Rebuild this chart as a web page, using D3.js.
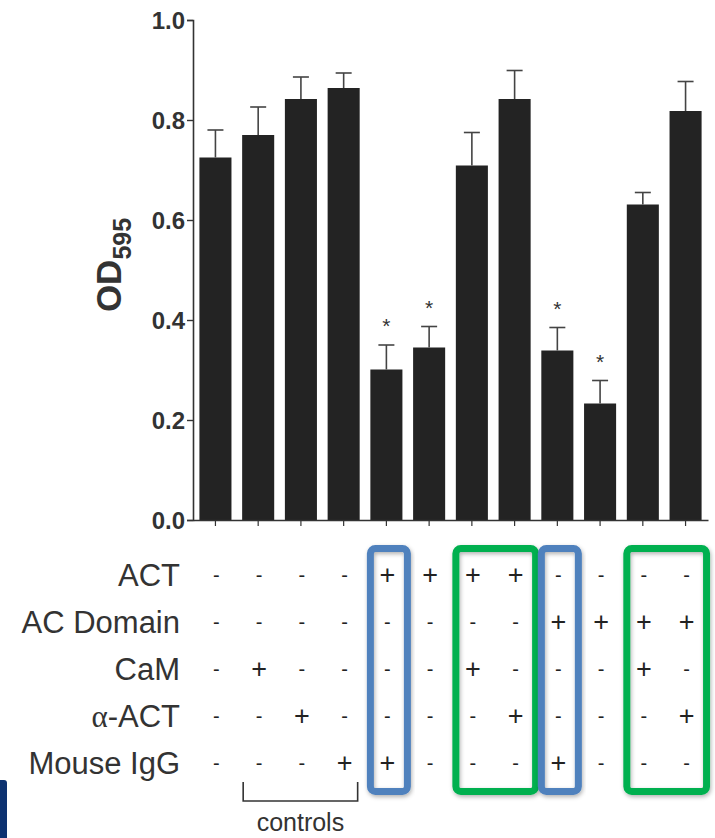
<!DOCTYPE html>
<html>
<head>
<meta charset="utf-8">
<script src="https://cdn.jsdelivr.net/npm/d3@7"></script>
<style>
  body { margin: 0; background: #fff; }
  text { font-family: "Liberation Sans", Arial, sans-serif; }
</style>
</head>
<body>
<svg width="715" height="838"></svg>
<script>
var width = 715,
    height = 838;

// bar values (OD595) and upper error
var values = [0.725, 0.77, 0.842, 0.864, 0.301, 0.345, 0.709, 0.842, 0.339, 0.233, 0.631, 0.818];
var errors = [0.055, 0.056, 0.044, 0.03, 0.049, 0.042, 0.066, 0.057, 0.046, 0.046, 0.024, 0.059];
var significant = [0, 0, 0, 0, 1, 1, 0, 0, 1, 1, 0, 0];
var yTicks = [0, 0.2, 0.4, 0.6, 0.8, 1.0];

// treatment table
var rowNames = ["ACT", "AC Domain", "CaM", "α-ACT", "Mouse IgG"];
var actRow      = ["-", "-", "-", "-", "+", "+", "+", "+", "-", "-", "-", "-"];
var acDomainRow = ["-", "-", "-", "-", "-", "-", "-", "-", "+", "+", "+", "+"];
var camRow      = ["-", "+", "-", "-", "-", "-", "+", "-", "-", "-", "+", "-"];
var alphaActRow = ["-", "-", "+", "-", "-", "-", "-", "+", "-", "-", "-", "+"];
var mouseIgGRow = ["-", "-", "-", "+", "+", "-", "-", "-", "+", "-", "-", "-"];
var rows = [actRow, acDomainRow, camRow, alphaActRow, mouseIgGRow];

// highlight boxes (first and last bar index)
var boxFrom = [4, 6, 8, 10];
var boxTo = [4, 7, 8, 11];
var boxColor = ["#4f81bd", "#00b050", "#4f81bd", "#00b050"];

// controls bracket spans bars 1..3
var controlsFrom = 1, controlsTo = 3;

var svg = d3.select("svg");

var idx = d3.range(values.length);

var x = d3.scaleBand()
    .domain(idx)
    .range([193, 708])
    .paddingInner(0.25)
    .paddingOuter(0.15);

var y = d3.scaleLinear()
    .domain([0, 1])
    .range([520, 20]);

function cx(i) { return x(i) + x.bandwidth() / 2; }

// bars
svg.append("g")
    .selectAll("rect")
    .data(idx)
    .enter().append("rect")
    .attr("x", function (i) { return x(i); })
    .attr("y", function (i) { return y(values[i]); })
    .attr("width", x.bandwidth())
    .attr("height", function (i) { return y(0) - y(values[i]); })
    .style("fill", "#232323");

// error bars (upper only)
var err = svg.append("g").style("stroke", "#444").style("stroke-width", 1.6);
err.selectAll("line.v")
    .data(idx)
    .enter().append("line")
    .attr("class", "v")
    .attr("x1", cx).attr("x2", cx)
    .attr("y1", function (i) { return y(values[i]); })
    .attr("y2", function (i) { return y(values[i] + errors[i]); });
err.selectAll("line.c")
    .data(idx)
    .enter().append("line")
    .attr("class", "c")
    .attr("x1", function (i) { return cx(i) - 8; })
    .attr("x2", function (i) { return cx(i) + 8; })
    .attr("y1", function (i) { return y(values[i] + errors[i]); })
    .attr("y2", function (i) { return y(values[i] + errors[i]); });

// significance stars
svg.append("g")
    .selectAll("text")
    .data(idx.filter(function (i) { return significant[i]; }))
    .enter().append("text")
    .attr("x", cx)
    .attr("y", function (i) { return y(values[i] + errors[i]) - 12; })
    .attr("text-anchor", "middle")
    .style("font-size", "21px")
    .style("fill", "#333")
    .text("*");

// y axis
var yAxis = svg.append("g")
    .attr("transform", "translate(193,0)")
    .call(d3.axisLeft(y).tickValues(yTicks).tickFormat(d3.format(".1f")).tickSize(6).tickPadding(2));
yAxis.select(".domain").style("stroke", "#333").style("stroke-width", 1.6);
yAxis.selectAll(".tick line").style("stroke", "#333").style("stroke-width", 1.4);
yAxis.selectAll(".tick text")
    .style("font-size", "24px")
    .style("font-weight", "bold")
    .style("fill", "#333")
    .attr("dy", "0.36em");

// x axis
var xAxis = svg.append("g")
    .attr("transform", "translate(0,520)")
    .call(d3.axisBottom(x).tickSize(6).tickFormat("").tickSizeOuter(0));
xAxis.select(".domain").style("stroke", "#333").style("stroke-width", 1.6);
xAxis.selectAll(".tick line").style("stroke", "#333").style("stroke-width", 1.2);

// y label
var yl = svg.append("text")
    .attr("transform", "translate(121,265) rotate(-90)")
    .attr("text-anchor", "middle")
    .style("font-weight", "bold")
    .style("fill", "#333");
yl.append("tspan").style("font-size", "35px").text("OD");
yl.append("tspan").style("font-size", "25px").attr("dy", 10).text("595");

// highlight boxes
var boxes = svg.append("g");
var shadow = svg.append("defs").append("filter").attr("id", "sh")
    .attr("x", "-20%").attr("y", "-10%").attr("width", "140%").attr("height", "120%");
shadow.append("feDropShadow").attr("dx", 1).attr("dy", 2).attr("stdDeviation", 2)
    .attr("flood-color", "#000").attr("flood-opacity", 0.3);
boxes.selectAll("rect")
    .data(d3.range(boxFrom.length))
    .enter().append("rect")
    .attr("x", function (b) { return cx(boxFrom[b]) - 16; })
    .attr("y", 548.5)
    .attr("width", function (b) { return cx(boxTo[b]) - cx(boxFrom[b]) + 37; })
    .attr("height", 243)
    .attr("rx", 5)
    .style("fill", "none")
    .style("stroke", function (b) { return boxColor[b]; })
    .style("stroke-width", 7)
    .attr("filter", "url(#sh)");

// table
var rowY = d3.scalePoint().domain(d3.range(rows.length)).range([575, 763]);
var table = svg.append("g");
table.selectAll("text.rowname")
    .data(d3.range(rows.length))
    .enter().append("text")
    .attr("class", "rowname")
    .attr("x", 180)
    .attr("y", function (r) { return rowY(r); })
    .attr("dy", "0.36em")
    .attr("text-anchor", "end")
    .style("font-size", "31px")
    .style("fill", "#333")
    .each(function (r) {
        var t = d3.select(this);
        var name = rowNames[r];
        if (name.charAt(0) === "α") {
            t.append("tspan").style("font-family", "'Liberation Serif', serif").text("α");
            t.append("tspan").text(name.slice(1));
        } else {
            t.text(name);
        }
    });

rows.forEach(function (row, r) {
    table.selectAll("text.sign" + r)
        .data(idx)
        .enter().append("text")
        .attr("class", "sign" + r)
        .attr("x", function (i) { return cx(i) + 1; })
        .attr("y", rowY(r))
        .attr("dy", "0.34em")
        .attr("text-anchor", "middle")
        .style("font-size", function (i) { return row[i] === "+" ? "27px" : "20px"; })
        .style("fill", "#222")
        .text(function (i) { return row[i]; });
});

// controls bracket
var bx1 = cx(controlsFrom) - 15, bx2 = cx(controlsTo) + 14;
svg.append("path")
    .attr("d", "M" + bx1 + ",782V801H" + bx2 + "V782")
    .style("fill", "none")
    .style("stroke", "#333")
    .style("stroke-width", 1.6);
svg.append("text")
    .attr("x", (bx1 + bx2) / 2)
    .attr("y", 831)
    .attr("text-anchor", "middle")
    .style("font-size", "25px")
    .style("fill", "#333")
    .text("controls");

// slide edge at bottom left
svg.append("rect")
    .attr("x", -4).attr("y", 780)
    .attr("width", 11).attr("height", 70)
    .attr("rx", 3)
    .style("fill", "#0d3270");
</script>
</body>
</html>
